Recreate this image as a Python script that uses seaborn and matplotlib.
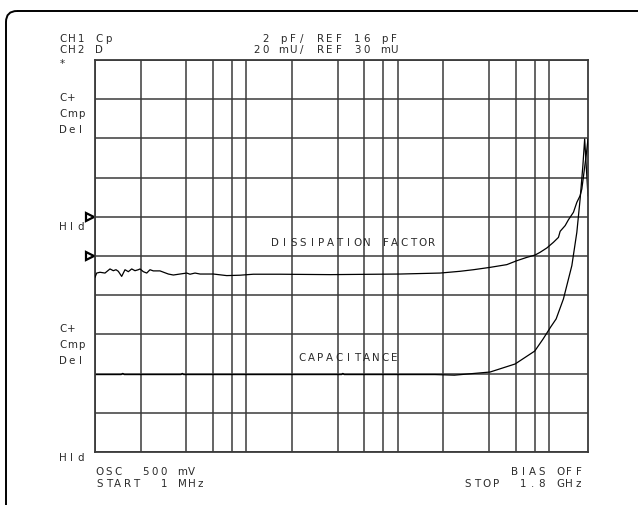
import matplotlib
matplotlib.use("Agg")
import matplotlib.pyplot as plt
import matplotlib.transforms as mtransforms
from matplotlib.patches import FancyBboxPatch
import pandas as pd
import seaborn as sns

# ---- sweep and channel settings -------------------------------------------
F_START_MHZ = 1.0
F_STOP_MHZ = 1800.0
GRID_MHZ = [1, 2, 4, 6, 8, 10, 20, 40, 60, 80, 100, 200, 400, 600, 800, 1000]
N_DIV = 10

CP_SCALE = 2.0      # pF / div
CP_REF = 16.0       # pF
CP_REF_DIV = 6      # reference line, divisions above bottom
D_SCALE = 20.0      # mU / div
D_REF = 30.0        # mU
D_REF_DIV = 5

# ---- measured traces -------------------------------------------------------
cap_freq_mhz = [1.0, 1.49, 1.526, 1.56, 3.70, 3.77, 3.85, 42.5, 43.3, 44.2,
                103, 176, 236, 406, 594, 801, 910, 1021, 1109, 1239,
                1408, 1519, 1597, 1665, 1711, 1800]
cap_pf = [7.95, 7.95, 8.01, 7.95, 7.95, 8.01, 7.95, 7.95, 8.01, 7.95,
          7.95, 7.95, 7.92, 8.08, 8.49, 9.15, 9.77, 10.38, 10.79, 11.81,
          13.51, 15.21, 16.91, 18.61, 19.97, 17.06]

diss_freq_mhz = [1.0, 1.026, 1.079, 1.164, 1.256, 1.321, 1.376, 1.425, 1.50,
                 1.578, 1.66, 1.747, 1.837, 1.932, 1.983, 2.085, 2.196, 2.308,
                 2.427, 2.686, 3.05, 3.29, 3.64, 4.035, 4.24, 4.576, 4.94,
                 6.045, 7.41, 9.07, 11.1, 16.67, 35.7, 103.4, 190, 257.5,
                 315.2, 406, 524, 610, 710, 806, 869.6, 962.8, 1064.5,
                 1148.5, 1178.7, 1271.7, 1337, 1442.7, 1519.5, 1597, 1639,
                 1750, 1800]
diss_mu = [19.1, 21.3, 21.7, 21.3, 23.4, 22.5, 23.0, 22.2, 19.6,
           23.0, 22.0, 23.4, 22.5, 23.0, 23.4, 22.0, 21.3, 23.0,
           22.4, 22.4, 20.8, 20.3, 20.8, 21.3, 20.7, 21.3, 20.8,
           20.8, 20.0, 20.2, 20.7, 20.7, 20.5, 20.8, 21.3, 22.2,
           23.0, 24.2, 25.6, 27.6, 29.3, 30.5, 31.9, 34.1, 37.0,
           39.5, 42.6, 45.5, 48.5, 52.3, 57.4, 60.8, 64.2,
           81.2, 89.7]

# ---- annotation text -------------------------------------------------------
header_left = ["CH1 Cp", "CH2 D"]
header_scale = ["2 pF/ REF 16 pF", "20 mU/ REF 30 mU"]
side_upper = ["*", "C+", "Cmp", "Del", "Hld"]
side_lower = ["C+", "Cmp", "Del", "Hld"]
trace_labels = ["DISSIPATION FACTOR", "CAPACITANCE"]
footer_left = ["OSC  500 mV", "START  1 MHz"]
footer_right = ["BIAS OFF", "STOP  1.8 GHz"]

cap_df = pd.DataFrame({"freq": cap_freq_mhz, "value": cap_pf})
diss_df = pd.DataFrame({"freq": diss_freq_mhz, "value": diss_mu})

sns.set_theme(style="white")
plt.rcParams["font.family"] = ["DejaVu Sans"]

W, H = 638, 506
fig = plt.figure(figsize=(W / 100, H / 100), dpi=100)
fig.patch.set_facecolor("white")

GRID_COL = "#3a3a3a"
INK = "#2a2a2a"

# plotting area in pixel units (left, top, right, bottom)
L, T, R, B = 95, 61, 588, 453
ax = fig.add_axes([L / W, 1 - B / H, (R - L) / W, (B - T) / H])
ax.set_xscale("log")
ax.set_xlim(F_START_MHZ, F_STOP_MHZ)
cp_bottom = CP_REF - CP_REF_DIV * CP_SCALE
ax.set_ylim(cp_bottom, cp_bottom + N_DIV * CP_SCALE)
ax.set_xticks(GRID_MHZ)
ax.set_xticks([], minor=True)
ax.set_yticks([cp_bottom + i * CP_SCALE for i in range(N_DIV + 1)])
ax.grid(True, color=GRID_COL, linewidth=1.1)
ax.tick_params(length=0, labelbottom=False, labelleft=False)
for s in ax.spines.values():
    s.set_color(GRID_COL)
    s.set_linewidth(1.3)
ax.set_facecolor("white")

ax2 = ax.twinx()
d_bottom = D_REF - D_REF_DIV * D_SCALE
ax2.set_ylim(d_bottom, d_bottom + N_DIV * D_SCALE)
ax2.set_yticks([])
ax2.tick_params(length=0, labelright=False)
for s in ax2.spines.values():
    s.set_visible(False)

sns.lineplot(data=cap_df, x="freq", y="value", ax=ax, color="black",
             linewidth=0.9, estimator=None)
sns.lineplot(data=diss_df, x="freq", y="value", ax=ax2, color="black",
             linewidth=0.9, estimator=None)
for a in (ax, ax2):
    a.set_xlabel("")
    a.set_ylabel("")

# reference markers on the left edge
for a, ref in ((ax, CP_REF), (ax2, D_REF)):
    tr = mtransforms.blended_transform_factory(a.transAxes, a.transData)
    a.plot([-0.0095], [ref], marker=">", markersize=5.5, mfc="white",
           mec="black", mew=1.6, transform=tr, clip_on=False)

# overlay in pixel coordinates for the annotation text and the outer frame
ov = fig.add_axes([0, 0, 1, 1], zorder=5)
ov.set_xlim(0, W)
ov.set_ylim(H, 0)
ov.axis("off")
ov.patch.set_alpha(0)

frame = FancyBboxPatch((6, 12), 700, 560,
                       boxstyle="round,pad=0,rounding_size=11",
                       fc="none", ec="black", lw=1.4)
ov.add_patch(frame)

PITCH = 9.2
GLYPH_W = 7.0


def plotter_text(x_left, y, s):
    # fixed-pitch plotter lettering: one glyph per character cell
    for i, ch in enumerate(s):
        if ch == " ":
            continue
        ov.text(x_left + GLYPH_W / 2 + i * PITCH, y, ch, ha="center",
                va="center", fontsize=7.4, color=INK)


def plotter_text_right(x_right, y, s):
    plotter_text(x_right - GLYPH_W - (len(s) - 1) * PITCH, y, s)


plotter_text(59, 39, header_left[0])
plotter_text(59, 50, header_left[1])
plotter_text_right(397.5, 39, header_scale[0])
plotter_text_right(397.5, 50, header_scale[1])

for s, y in zip(side_upper, [64, 98, 114, 130, 227]):
    plotter_text(59, y, s)
for s, y in zip(side_lower, [329, 345, 361, 458]):
    plotter_text(59, y, s)

plotter_text(271.7, 243, trace_labels[0])
plotter_text(298.5, 358, trace_labels[1])

plotter_text(96, 472, footer_left[0])
plotter_text(96, 484, footer_left[1])
plotter_text_right(582, 472, footer_right[0])
plotter_text_right(582, 484, footer_right[1])

fig.savefig("out.png", dpi=100, facecolor="white")
